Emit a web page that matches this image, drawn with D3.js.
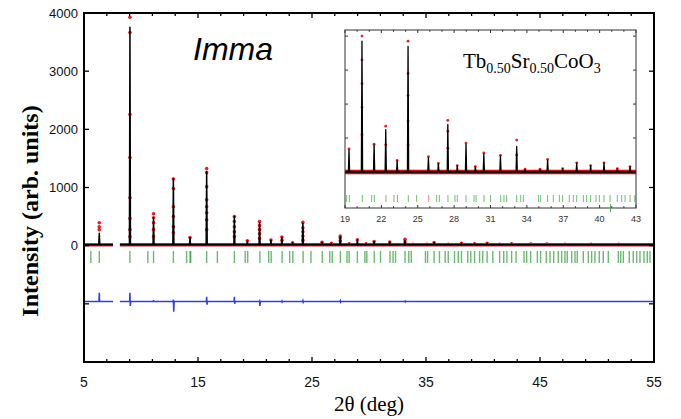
<!DOCTYPE html>
<html><head><meta charset="utf-8">
<script src="https://cdn.jsdelivr.net/npm/d3@7"></script>
<style>body{margin:0;background:#fff}svg{display:block}</style>
</head><body>
<svg id="c" width="681" height="419"></svg>
<script>
// ---------- data ----------
const xTickLabels = [5, 15, 25, 35, 45, 55];
const yTickLabels = [0, 1000, 2000, 3000, 4000];
const insetTickLabels = [19, 22, 25, 28, 31, 34, 37, 40, 43];
const dataRanges = [[5, 7.55], [8.15, 55]];
const background = 15;
const peakPos    = [6.34, 9.03, 11.1, 12.84, 14.3, 15.76, 18.19, 19.33, 20.4, 21.4, 22.36, 23.3, 24.2, 25.88, 26.7, 27.48, 28.26, 28.98, 29.75, 30.45, 31.82, 33.16, 33.85, 35.08, 35.71, 36.95, 38.11, 39.26, 40.36, 41.46, 42.51, 44.2, 45.6, 47.2, 49.5, 51.9];
const calcHeight = [200, 3740, 465, 1140, 120, 1260, 485, 65, 385, 80, 125, 32, 370, 42, 24, 140, 18, 82, 15, 53, 47, 75, 7, 7, 35, 9, 26, 18, 26, 9, 15, 10, 10, 8, 8, 6];
const obsTop     = [380, 3910, 535, 1130, 125, 1310, 485, 68, 400, 82, 135, 34, 385, 45, 25, 152, 19, 85, 16, 56, 49, 94, 8, 8, 37, 10, 27, 19, 27, 10, 16, 11, 11, 9, 9, 7];
const obsX = [6.34, 6.34, 9.03, 9.03, 9.03, 9.03, 9.03, 9.03, 9.03, 11.1, 11.1, 11.1, 11.1, 12.84, 12.84, 12.84, 12.84, 12.84, 15.76, 15.76, 15.76, 15.76, 15.76, 15.76, 15.76, 18.19, 18.19, 18.19, 18.19, 20.4, 20.4, 20.4, 20.4, 24.2, 24.2, 24.2, 24.2, 27.48, 27.48, 22.36, 33.16];
const obsY = [310, 260, 3650, 2240, 1500, 810, 450, 260, 140, 465, 380, 260, 140, 965, 655, 485, 310, 205, 1240, 1000, 775, 655, 550, 430, 260, 400, 310, 225, 140, 330, 260, 190, 110, 290, 225, 150, 80, 120, 70, 80, 50];
const diffOffset = -960;
const diffPos  = [6.34, 9.03, 11.1, 12.84, 15.76, 18.19, 20.4, 22.36, 24.2, 27.48, 33.16];
const diffUp   = [150, 150, 25, 30, 80, 80, 10, 10, 15, 12, 8];
const diffDown = [0, -75, 0, -175, -55, -40, -75, -10, -15, -12, -8];
const reflections = [5.6, 6.34, 9.03, 10.6, 11.1, 12.84, 14.0, 14.3, 14.36, 15.76, 16.7, 18.19,
  19.14, 19.36, 20.43, 21.2, 21.42, 22.38, 23.04, 23.32, 24.22, 24.91, 25.9, 26.56, 26.78, 27.49, 28.07, 28.26, 28.98, 29.64, 29.81, 30.46, 31.01, 31.84, 32.11, 32.33, 33.16, 33.49, 33.71, 34.95, 35.14, 35.71, 36.18, 36.68, 36.95, 37.5, 37.83, 38.11, 38.66, 38.93, 39.26, 39.7, 39.98, 40.36, 40.86, 41.46, 41.82, 42.1, 42.51, 42.9,
  43.6, 43.83, 44.18, 44.77, 45.05, 45.55, 45.88, 46.2, 46.6, 46.9, 47.19, 47.39, 47.78, 48.07, 48.27, 48.8, 49.24, 49.53, 49.82, 50.2, 50.55, 50.99, 51.87, 52.08, 52.31, 52.83, 53.18, 53.48, 53.77, 54.12, 54.41, 54.65];
const insetRedReflection = [25.9];

// ---------- layout ----------
const svg = d3.select('#c');
const M = {l: 84, r: 654, t: 13, b: 362};
const x = d3.scaleLinear().domain([5, 55]).range([M.l, M.r]);
const y = d3.scaleLinear().domain([-2000, 4000]).range([M.b, M.t]);
const I = {l: 345, r: 636, t: 30, b: 208};
const xi = d3.scaleLinear().domain([19, 43]).range([I.l, I.r]);
const yi = d3.scaleLinear().domain([-91, 433]).range([I.b, I.t]);

const peaks = peakPos.map((p, i) => ({p, h: calcHeight[i], o: obsTop[i]}));

function calcPoints(range, w) {
  const pts = [[range[0], background]];
  peaks.filter(d => d.p > range[0] && d.p < range[1]).forEach(d => {
    pts.push([d.p - w, background], [d.p, background + d.h], [d.p + w, background]);
  });
  pts.push([range[1], background]);
  return pts;
}
function diffPoints(range) {
  const pts = [[range[0], diffOffset]];
  diffPos.forEach((p, i) => {
    if (p > range[0] && p < range[1])
      pts.push([p - 0.03, diffOffset], [p, diffOffset + diffUp[i]], [p + 0.03, diffOffset + diffDown[i]], [p + 0.07, diffOffset]);
  });
  pts.push([range[1], diffOffset]);
  return pts;
}

function drawPattern(g, sx, sy, opts) {
  const line = d3.line().x(d => sx(d[0])).y(d => sy(d[1]));
  dataRanges.forEach(r => {
    g.append('path').attr('d', line([[r[0], background], [r[1], background]]))
      .attr('stroke', opts.bandColor).attr('stroke-width', opts.band).attr('fill', 'none');
  });
  const dots = peaks.map(d => [d.p, background + d.o]).concat(obsX.map((v, i) => [v, background + obsY[i]]));
  g.selectAll(null).data(dots.filter(d => d[0] >= sx.domain()[0] && d[0] <= sx.domain()[1])).join('circle')
    .attr('cx', d => sx(d[0])).attr('cy', d => sy(d[1])).attr('r', opts.r).attr('fill', '#ea1c24');
  dataRanges.forEach(r => {
    g.append('path').attr('d', line(calcPoints(r, opts.w)))
      .attr('stroke', '#000').attr('stroke-width', opts.lw).attr('fill', 'none').attr('stroke-linejoin', 'round');
  });
}

// ---------- main plot ----------
const main = svg.append('g');
main.append('defs').append('clipPath').attr('id', 'clipM').append('rect')
  .attr('x', M.l).attr('y', M.t).attr('width', M.r - M.l).attr('height', M.b - M.t);
const mg = main.append('g').attr('clip-path', 'url(#clipM)');
drawPattern(mg, x, y, {band: 3.4, bandColor: '#e0141c', r: 1.8, w: 0.045, lw: 1.5});

mg.selectAll(null).data(reflections).join('line')
  .attr('x1', d => x(d)).attr('x2', d => x(d)).attr('y1', 251).attr('y2', 263)
  .attr('stroke', '#2f9a36').attr('stroke-opacity', 0.7).attr('stroke-width', 1.4);

const lineM = d3.line().x(d => x(d[0])).y(d => y(d[1]));
dataRanges.forEach(r => {
  mg.append('path').attr('d', lineM(diffPoints(r)))
    .attr('stroke', '#2d3fe6').attr('stroke-width', 1.5).attr('fill', 'none');
});

main.append('rect').attr('x', M.l).attr('y', M.t).attr('width', M.r - M.l).attr('height', M.b - M.t)
  .attr('fill', 'none').attr('stroke', '#000').attr('stroke-width', 2);

d3.range(5, 56, 2).forEach(v => {
  const len = xTickLabels.includes(v) ? 5 : 3;
  main.append('line').attr('x1', x(v)).attr('x2', x(v)).attr('y1', M.b).attr('y2', M.b - len).attr('stroke', '#000').attr('stroke-width', 1.3);
  main.append('line').attr('x1', x(v)).attr('x2', x(v)).attr('y1', M.t).attr('y2', M.t + len).attr('stroke', '#000').attr('stroke-width', 1.3);
});
d3.range(-2000, 4001, 1000).forEach(v => {
  main.append('line').attr('x1', M.l).attr('x2', M.l + 5).attr('y1', y(v)).attr('y2', y(v)).attr('stroke', '#000').attr('stroke-width', 1.3);
  main.append('line').attr('x1', M.r).attr('x2', M.r - 5).attr('y1', y(v)).attr('y2', y(v)).attr('stroke', '#000').attr('stroke-width', 1.3);
});
main.selectAll(null).data(xTickLabels).join('text')
  .attr('x', d => x(d)).attr('y', 387).attr('text-anchor', 'middle')
  .attr('font-family', 'Liberation Sans, Arial, sans-serif').attr('font-size', 14).attr('fill', '#111').text(d => d);
main.selectAll(null).data(yTickLabels).join('text')
  .attr('x', 78).attr('y', d => y(d) + 4.5).attr('text-anchor', 'end')
  .attr('font-family', 'Liberation Sans, Arial, sans-serif').attr('font-size', 13).attr('fill', '#111').text(d => d);

svg.append('text').attr('transform', 'translate(38,211) rotate(-90)').attr('text-anchor', 'middle')
  .attr('font-family', 'Liberation Serif, Times New Roman, serif').attr('font-weight', 'bold').attr('font-size', 24)
  .text('Intensity (arb. units)');
svg.append('text').attr('x', 369).attr('y', 411).attr('text-anchor', 'middle')
  .attr('font-family', 'Liberation Serif, Times New Roman, serif').attr('font-size', 21).text('2θ (deg)');
svg.append('text').attr('x', 193).attr('y', 60)
  .attr('font-family', 'Liberation Sans, Arial, sans-serif').attr('font-style', 'italic').attr('font-size', 32).text('Imma');

// ---------- inset ----------
const ins = svg.append('g');
ins.append('rect').attr('x', I.l).attr('y', I.t).attr('width', I.r - I.l).attr('height', I.b - I.t).attr('fill', '#fff');
ins.append('defs').append('clipPath').attr('id', 'clipI').append('rect')
  .attr('x', I.l).attr('y', I.t).attr('width', I.r - I.l).attr('height', I.b - I.t);
const ig = ins.append('g').attr('clip-path', 'url(#clipI)');
drawPattern(ig, xi, yi, {band: 4.5, bandColor: '#b4141a', r: 1.4, w: 0.05, lw: 1.3});
ig.selectAll(null).data(reflections.filter(d => d >= 19 && d <= 43)).join('line')
  .attr('x1', d => xi(d)).attr('x2', d => xi(d)).attr('y1', 195).attr('y2', 202)
  .attr('stroke', d => insetRedReflection.includes(d) ? '#f07080' : '#4caf50').attr('stroke-opacity', 0.8).attr('stroke-width', 1);
ins.append('rect').attr('x', I.l).attr('y', I.t).attr('width', I.r - I.l).attr('height', I.b - I.t)
  .attr('fill', 'none').attr('stroke', '#333').attr('stroke-width', 1);
d3.range(19, 43.01, 1).forEach(v => {
  const len = insetTickLabels.includes(v) ? 3 : 1.8;
  ins.append('line').attr('x1', xi(v)).attr('x2', xi(v)).attr('y1', I.b).attr('y2', I.b - len).attr('stroke', '#333').attr('stroke-width', 1);
  ins.append('line').attr('x1', xi(v)).attr('x2', xi(v)).attr('y1', I.t).attr('y2', I.t + len).attr('stroke', '#333').attr('stroke-width', 1);
});
[115, 215, 315, 415].forEach(v => {
  ins.append('line').attr('x1', I.l).attr('x2', I.l + 3).attr('y1', yi(v)).attr('y2', yi(v)).attr('stroke', '#333');
  ins.append('line').attr('x1', I.r).attr('x2', I.r - 3).attr('y1', yi(v)).attr('y2', yi(v)).attr('stroke', '#333');
});
ins.append('line').attr('x1', xi(40.9)).attr('x2', xi(40.9)).attr('y1', 204).attr('y2', 212).attr('stroke', '#4caf50').attr('stroke-width', 1);
ins.selectAll(null).data(insetTickLabels).join('text')
  .attr('x', d => xi(d)).attr('y', 222).attr('text-anchor', 'middle')
  .attr('font-family', 'Liberation Sans, Arial, sans-serif').attr('font-size', 9).attr('fill', '#333').text(d => d);
const f = ins.append('text').attr('x', 463).attr('y', 68)
  .attr('font-family', 'Liberation Serif, Times New Roman, serif').attr('font-size', 21);
f.append('tspan').text('Tb');
f.append('tspan').attr('font-size', 14).attr('dy', 5).text('0.50');
f.append('tspan').attr('dy', -5).text('Sr');
f.append('tspan').attr('font-size', 14).attr('dy', 5).text('0.50');
f.append('tspan').attr('dy', -5).text('CoO');
f.append('tspan').attr('font-size', 14).attr('dy', 5).text('3');
</script>
</body></html>
